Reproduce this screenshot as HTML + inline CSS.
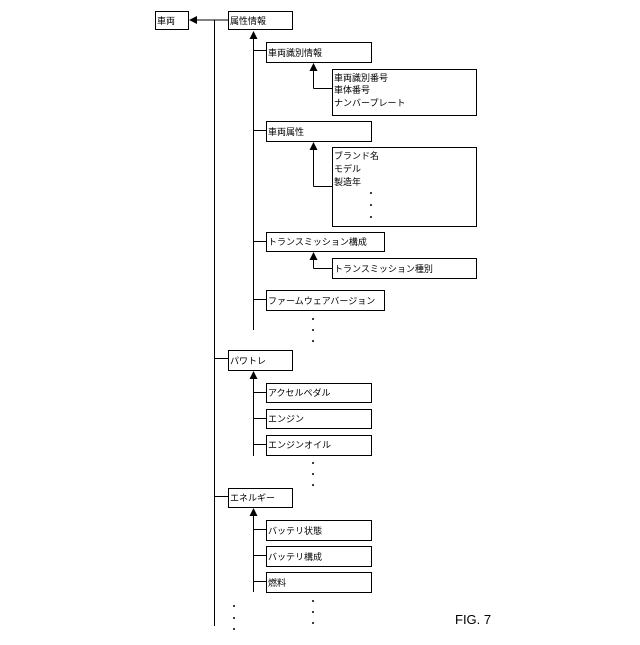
<!DOCTYPE html>
<html><head><meta charset="utf-8"><style>
body{margin:0;background:#fff}
svg text{font-family:"Liberation Sans","Noto Sans CJK JP",sans-serif;font-size:9px;fill:#000}
</style></head><body>
<svg width="640" height="640" viewBox="0 0 640 640" xmlns="http://www.w3.org/2000/svg">
<defs><marker id="a" markerWidth="8" markerHeight="8" refX="7" refY="4" orient="auto" markerUnits="userSpaceOnUse"><path d="M0,0 L8,4 L0,8 z" fill="#000"/></marker></defs>
<g fill="none" stroke="#000" stroke-width="1">
<rect x="155.5" y="11.5" width="33" height="18"/>
<rect x="228.5" y="11.5" width="64" height="18"/>
<line x1="228" y1="20" x2="190" y2="20" marker-end="url(#a)"/>
<line x1="214.5" y1="20" x2="214.5" y2="626"/>
<line x1="253.5" y1="330" x2="253.5" y2="32" marker-end="url(#a)"/>
<rect x="266.5" y="42.5" width="105" height="20"/>
<line x1="253" y1="50.5" x2="266" y2="50.5"/>
<rect x="332.5" y="69.5" width="144" height="46"/>
<line x1="332" y1="88.5" x2="313.5" y2="88.5"/>
<line x1="313.5" y1="88.5" x2="313.5" y2="64" marker-end="url(#a)"/>
<rect x="266.5" y="121.5" width="105" height="20"/>
<line x1="253" y1="130.5" x2="266" y2="130.5"/>
<rect x="332.5" y="147.5" width="144" height="79"/>
<line x1="332" y1="186.5" x2="313.5" y2="186.5"/>
<line x1="313.5" y1="186.5" x2="313.5" y2="143" marker-end="url(#a)"/>
<rect x="266.5" y="232.5" width="118" height="19"/>
<line x1="253" y1="241.5" x2="266" y2="241.5"/>
<rect x="332.5" y="258.5" width="144" height="20"/>
<line x1="332" y1="268.5" x2="313.5" y2="268.5"/>
<line x1="313.5" y1="268.5" x2="313.5" y2="253" marker-end="url(#a)"/>
<rect x="266.5" y="290.5" width="118" height="20"/>
<line x1="253" y1="299.5" x2="266" y2="299.5"/>
<rect x="228.5" y="350.5" width="64" height="20"/>
<line x1="214" y1="358.5" x2="228" y2="358.5"/>
<line x1="253.5" y1="456" x2="253.5" y2="372" marker-end="url(#a)"/>
<rect x="266.5" y="383.5" width="105" height="19"/>
<line x1="253" y1="392.5" x2="266" y2="392.5"/>
<rect x="266.5" y="409.5" width="105" height="19"/>
<line x1="253" y1="418.5" x2="266" y2="418.5"/>
<rect x="266.5" y="435.5" width="105" height="20"/>
<line x1="253" y1="444.5" x2="266" y2="444.5"/>
<rect x="228.5" y="488.5" width="64" height="19"/>
<line x1="214" y1="496.5" x2="228" y2="496.5"/>
<line x1="253.5" y1="592" x2="253.5" y2="509" marker-end="url(#a)"/>
<rect x="266.5" y="520.5" width="105" height="20"/>
<line x1="253" y1="529.5" x2="266" y2="529.5"/>
<rect x="266.5" y="546.5" width="105" height="20"/>
<line x1="253" y1="555.5" x2="266" y2="555.5"/>
<rect x="266.5" y="572.5" width="105" height="20"/>
<line x1="253" y1="581.5" x2="266" y2="581.5"/>
</g>
<g fill="#000">
<circle cx="371" cy="193" r="1"/><circle cx="371" cy="205" r="1"/><circle cx="371" cy="217" r="1"/>
<circle cx="313" cy="319" r="1"/><circle cx="313" cy="330" r="1"/><circle cx="313" cy="341" r="1"/>
<circle cx="313" cy="463" r="1"/><circle cx="313" cy="474" r="1"/><circle cx="313" cy="485" r="1"/>
<circle cx="313" cy="601" r="1"/><circle cx="313" cy="612" r="1"/><circle cx="313" cy="623" r="1"/>
<circle cx="234" cy="606" r="1"/><circle cx="234" cy="618" r="1"/><circle cx="234" cy="629" r="1"/>
</g>
<text x="157" y="24">車両</text>
<text x="230" y="24">属性情報</text>
<text x="268" y="56">車両識別情報</text>
<text x="334" y="81">車両識別番号</text>
<text x="334" y="93">車体番号</text>
<text x="334" y="106">ナンバープレート</text>
<text x="268" y="135">車両属性</text>
<text x="334" y="159">ブランド名</text>
<text x="334" y="172">モデル</text>
<text x="334" y="185">製造年</text>
<text x="268" y="245">トランスミッション構成</text>
<text x="334" y="272">トランスミッション種別</text>
<text x="268" y="304">ファームウェアバージョン</text>
<text x="230" y="364">パワトレ</text>
<text x="268" y="396">アクセルペダル</text>
<text x="268" y="422">エンジン</text>
<text x="268" y="448">エンジンオイル</text>
<text x="230" y="501">エネルギー</text>
<text x="268" y="534">バッテリ状態</text>
<text x="268" y="560">バッテリ構成</text>
<text x="268" y="586">燃料</text>
<text x="455" y="624" style="font-size:13px">FIG. 7</text>
</svg>
</body></html>
